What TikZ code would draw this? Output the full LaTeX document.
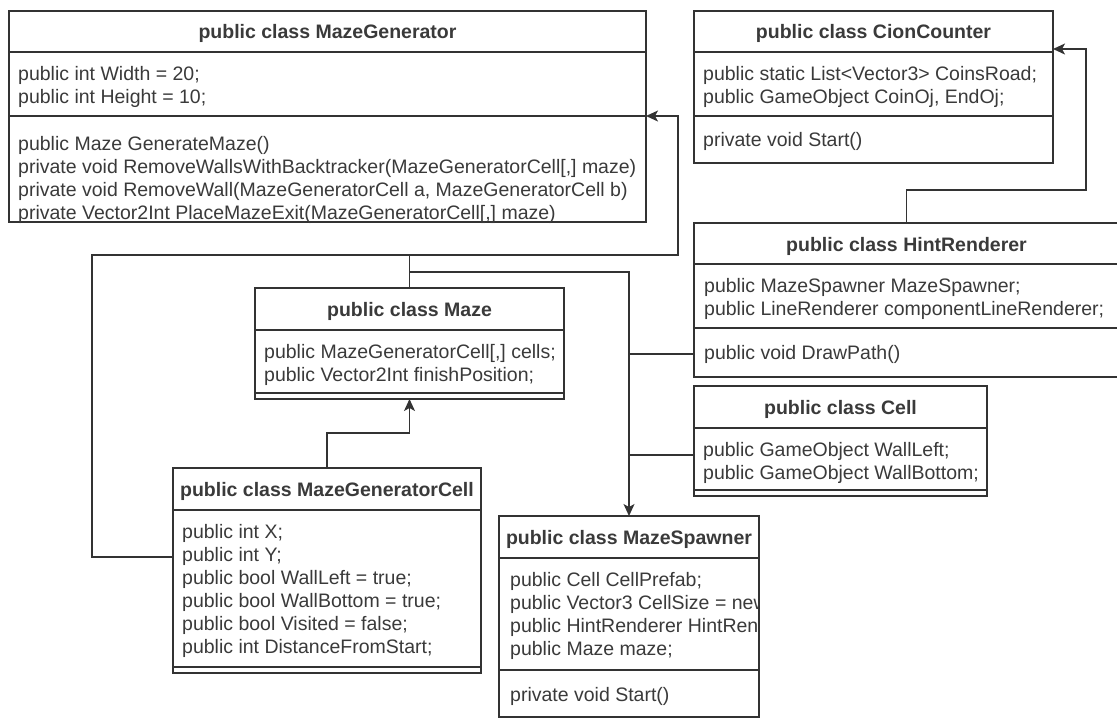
\documentclass[tikz,border=0pt]{standalone}
\usepackage{fontspec}
\setmainfont{Liberation Sans}
\usetikzlibrary{arrows.meta}
\definecolor{ink}{HTML}{333333}
\definecolor{txtc}{HTML}{3A3A3A}
\tikzset{
  cls/.style={draw=ink, line width=1.3pt, anchor=north west, inner sep=0pt, outer sep=0pt, fill=white},
  sep/.style={draw=ink, line width=1.3pt},
  ttl/.style={font=\bfseries\fontsize{19.5}{23}\selectfont, text=txtc, inner sep=0pt, anchor=base},
  txt/.style={font=\fontsize{19.5}{23}\selectfont, text=txtc, inner sep=0pt, anchor=north west, align=left},
  conn/.style={draw=ink, line width=1.3pt},
  arr/.style={conn, -{Stealth[length=12pt,width=11pt,inset=3pt]}},
}
\begin{document}
\begin{tikzpicture}[x=1pt,y=-1pt]
\useasboundingbox (0,0) rectangle (1117,718);

% MazeGenerator
\node[cls, minimum width=637pt, minimum height=211pt] (mg) at (9,11) {};
\draw[sep] (9,52) -- (646,52);
\draw[sep] (9,116) -- (646,116);
\node[ttl] (mgt) at (327.5,38) {public class MazeGenerator};
\node[txt] (mga) at (18,64) {\strut public int Width = 20;\\\strut public int Height = 10;};
\node[txt] (mgm) at (18,134) {\strut public Maze GenerateMaze()\\\strut private void RemoveWallsWithBacktracker(MazeGeneratorCell[,] maze)\\\strut private void RemoveWall(MazeGeneratorCell a, MazeGeneratorCell b)\\\strut private Vector2Int PlaceMazeExit(MazeGeneratorCell[,] maze)};

% CionCounter
\node[cls, minimum width=359pt, minimum height=152pt] (cc) at (694,11) {};
\draw[sep] (694,52) -- (1053,52);
\draw[sep] (694,116) -- (1053,116);
\node[ttl] (cct) at (873.5,38) {public class CionCounter};
\node[txt] (cca) at (703,64) {\strut public static List<Vector3> CoinsRoad;\\\strut public GameObject CoinOj, EndOj;};
\node[txt] (ccm) at (703,130.4) {\strut private void Start()};

% HintRenderer
\node[cls, minimum width=425pt, minimum height=154pt] (hr) at (694,223) {};
\draw[sep] (694,264) -- (1119,264);
\draw[sep] (694,328) -- (1119,328);
\node[ttl] (hrt) at (906.5,251) {public class HintRenderer};
\node[txt] (hra) at (704,276) {\strut public MazeSpawner MazeSpawner;\\\strut public LineRenderer componentLineRenderer;};
\node[txt] (hrm) at (704,343.4) {\strut public void DrawPath()};

% Maze
\node[cls, minimum width=309pt, minimum height=111pt] (mz) at (255,288) {};
\draw[sep] (255,330) -- (564,330);
\draw[sep] (255,393) -- (564,393);
\node[ttl] (mzt) at (409.5,316) {public class Maze};
\node[txt] (mza) at (264,342) {\strut public MazeGeneratorCell[,] cells;\\\strut public Vector2Int finishPosition;};

% Cell
\node[cls, minimum width=293pt, minimum height=110pt] (ce) at (694,386) {};
\draw[sep] (694,428) -- (987,428);
\draw[sep] (694,490) -- (987,490);
\node[ttl] (cet) at (840.5,414) {public class Cell};
\node[txt] (cea) at (703,440) {\strut public GameObject WallLeft;\\\strut public GameObject WallBottom;};

% MazeGeneratorCell
\node[cls, minimum width=308pt, minimum height=205pt] (mgc) at (173,468) {};
\draw[sep] (173,510) -- (481,510);
\draw[sep] (173,667) -- (481,667);
\node[ttl] (mgct) at (327,496) {public class MazeGeneratorCell};
\node[txt] (mgca) at (182,522) {\strut public int X;\\\strut public int Y;\\\strut public bool WallLeft = true;\\\strut public bool WallBottom = true;\\\strut public bool Visited = false;\\\strut public int DistanceFromStart;};

% MazeSpawner
\node[cls, minimum width=260pt, minimum height=201pt] (ms) at (499,516) {};
\draw[sep] (499,558) -- (759,558);
\draw[sep] (499,670) -- (759,670);
\node[ttl] (mst) at (629,544) {public class MazeSpawner};
\begin{scope}
\clip (499,516) rectangle (758.3,717);
\node[txt] (msa) at (510,570) {\strut public Cell CellPrefab;\\\strut public Vector3 CellSize = new\\\strut public HintRenderer HintRenderer;\\\strut public Maze maze;};
\end{scope}
\node[txt] (msm) at (510,685) {\strut private void Start()};

% connectors
\draw[arr] (mgc.west |- 0,557) -- (92,557) -- (92,255) -- (678,255) -- (678,116) -- (mg.east |- 0,116);
\draw[conn] (mz.north) -- (mz.north |- 0,255);
\draw[arr] (mz.north |- 0,272) -- (ms.north |- 0,272) -- (ms.north);
\draw[conn] (hr.west |- 0,354) -- (ms.north |- 0,354);
\draw[conn] (ce.west |- 0,455) -- (ms.north |- 0,455);
\draw[arr] (mgc.north) -- (mgc.north |- 0,433) -- (mz.south |- 0,433) -- (mz.south);
\draw[arr] (hr.north) -- (hr.north |- 0,190) -- (1086,190) -- (1086,49) -- (cc.east |- 0,49);
\end{tikzpicture}
\end{document}
